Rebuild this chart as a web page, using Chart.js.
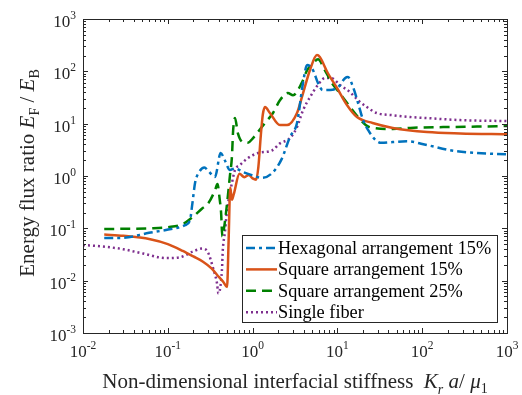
<!DOCTYPE html>
<html>
<head>
<meta charset="utf-8">
<script src="https://cdn.jsdelivr.net/npm/chart.js@4.4.0/dist/chart.umd.min.js"></script>
<style>
  body { margin: 0; background: #fff; }
  canvas { display: block; }
</style>
</head>
<body>
<canvas id="grafico" width="522" height="395"></canvas>
<script>
// tick decades and labels
var xTicks = [1e-2, 1e-1, 1e0, 1e1, 1e2, 1e3];
var xTickExp = ['-2', '-1', '0', '1', '2', '3'];
var yTicks = [1e-3, 1e-2, 1e-1, 1e0, 1e1, 1e2, 1e3];
var yTickExp = ['-3', '-2', '-1', '0', '1', '2', '3'];

var labels = ['Hexagonal arrangement 15%', 'Square arrangement 15%', 'Square arrangement 25%', 'Single fiber'];

// [K a / mu, E_F / E_B]
var hex15 = [[0.0178,0.065],[0.03,0.066],[0.06,0.082],[0.095,0.093],[0.16,0.115],[0.183,0.145],[0.195,0.3],
  [0.21,0.75],[0.235,1.2],[0.27,1.45],[0.3,1.25],[0.36,0.96],[0.42,2.75],[0.47,2.0],[0.54,1.3],[0.62,1.4],
  [0.77,1.19],[0.98,1.04],[1.29,0.92],[1.7,1.14],[2.2,2.1],[2.76,5.6],[3.34,10.3],[3.93,60],[4.4,132],
  [5.15,106],[5.9,60],[6.7,44],[8.2,44],[10.2,50],[12.3,74],[13.3,78],[15.3,50],[17.5,25],[20,12],
  [23,7.6],[28,4.9],[33,4.3],[45,4.45],[66,4.6],[114,3.9],[213,3.1],[443,2.75],[1000,2.6]];

var sq15 = [[0.0178,0.076],[0.03,0.072],[0.062,0.062],[0.1,0.05],[0.15,0.037],[0.2,0.029],[0.26,0.023],
  [0.33,0.017],[0.38,0.013],[0.45,0.0095],[0.5,0.0076],[0.52,0.05],[0.545,0.6],[0.57,0.35],[0.6,0.45],
  [0.7,1.1],[0.8,0.95],[0.9,1.05],[1.0,0.9],[1.1,0.85],[1.17,1.5],[1.25,6],[1.32,15],[1.4,20.8],[1.6,16],
  [2.1,9.4],[2.55,9.4],[3.34,16],[3.93,38],[4.75,106],[5.74,205],[6.2,188],[7.7,93],[9.9,48],[12.9,23],
  [17,13.4],[26,10.3],[45,8.3],[114,6.9],[280,6.5],[1000,6.3]];

var sq25 = [[0.0178,0.097],[0.03,0.098],[0.062,0.1],[0.1,0.105],[0.15,0.12],[0.19,0.157],[0.254,0.24],
  [0.3,0.3],[0.36,0.53],[0.385,0.7],[0.41,0.35],[0.425,0.2],[0.44,0.07],[0.46,0.1],[0.5,0.3],[0.54,1.0],
  [0.57,2.3],[0.59,7.6],[0.62,12.8],[0.67,6.6],[0.77,4.4],[0.88,4.3],[1.0,5.2],[1.13,6.6],[1.4,10.3],
  [1.74,16],[2.1,28],[2.6,38.5],[3.0,35],[3.8,60],[4.4,106],[5.0,132],[5.9,170],[7.1,106],[8.6,60],
  [10.7,38],[14.1,21],[17.5,13.4],[24,8.6],[45,7.9],[72,8.3],[176,8.6],[443,8.8],[1000,9.0]];

var single = [[0.01,0.048],[0.0172,0.045],[0.0296,0.04],[0.051,0.033],[0.095,0.027],[0.139,0.028],
  [0.198,0.036],[0.254,0.041],[0.297,0.035],[0.34,0.018],[0.38,0.009],[0.395,0.0057],[0.435,0.016],
  [0.445,0.038],[0.47,0.081],[0.5,0.22],[0.57,0.73],[0.62,1.3],[0.71,1.62],[0.88,2.2],[1.16,2.75],
  [1.7,3.1],[2.1,4.2],[2.76,5.3],[3.34,8.6],[3.93,18],[4.75,32],[5.9,55],[7.2,75],[8.6,74],[10.7,55],
  [14.1,40],[17.5,28],[22,21],[29,16],[45,14.5],[72,13.4],[114,12.8],[280,11.7],[1000,11.2]];

var serif = '"Liberation Serif", "Times New Roman", serif';

function toXY(arr) {
    return arr.map(function(p) { return { x: p[0], y: p[1] }; });
}

function linha(label, data, cor, dash, cap) {
    return {
        label: label,
        data: toXY(data),
        borderColor: cor,
        borderWidth: 2.5,
        borderDash: dash,
        borderCapStyle: cap || 'butt',
        pointRadius: 0,
        fill: false,
        cubicInterpolationMode: 'monotone'
    };
}

// "10" with a raised exponent
function potencia(ctx, exp, x, y, align) {
    var baseFont = '17px ' + serif, expFont = '11.5px ' + serif;
    ctx.font = baseFont;
    var wb = ctx.measureText('10').width;
    ctx.font = expFont;
    var we = ctx.measureText(exp).width;
    var x0 = align === 'right' ? x - wb - we : x - (wb + we) / 2;
    ctx.textAlign = 'left';
    ctx.textBaseline = 'alphabetic';
    ctx.font = baseFont;
    ctx.fillText('10', x0, y);
    ctx.font = expFont;
    ctx.fillText(exp, x0 + wb, y - 8);
}

// write a list of [text, font, dy] pieces in a row
function pedacos(ctx, parts, x, y) {
    var cx = x;
    parts.forEach(function(p) {
        ctx.font = p[1];
        ctx.fillText(p[0], cx, y + (p[2] || 0));
        cx += ctx.measureText(p[0]).width;
    });
}
function larguraPedacos(ctx, parts) {
    var w = 0;
    parts.forEach(function(p) { ctx.font = p[1]; w += ctx.measureText(p[0]).width; });
    return w;
}

var eixosPlugin = {
    id: 'eixos',
    afterDatasetsDraw: function(chart) {
        var ctx = chart.ctx, a = chart.chartArea;
        var sx = chart.scales.x, sy = chart.scales.y;
        ctx.save();
        ctx.strokeStyle = '#262626';
        ctx.lineWidth = 1;
        ctx.setLineDash([]);
        ctx.beginPath();
        // minor and major ticks, inward on all four sides
        xTicks.forEach(function(d, i) {
            for (var m = 1; m <= 9; m++) {
                if (i === xTicks.length - 1 && m > 1) break;
                var px = Math.round(sx.getPixelForValue(d * m)) + 0.5;
                var len = m === 1 ? 5 : 3;
                ctx.moveTo(px, a.bottom); ctx.lineTo(px, a.bottom - len);
                ctx.moveTo(px, a.top); ctx.lineTo(px, a.top + len);
            }
        });
        yTicks.forEach(function(d, i) {
            for (var m = 1; m <= 9; m++) {
                if (i === yTicks.length - 1 && m > 1) break;
                var py = Math.round(sy.getPixelForValue(d * m)) + 0.5;
                var len = m === 1 ? 5 : 3;
                ctx.moveTo(a.left, py); ctx.lineTo(a.left + len, py);
                ctx.moveTo(a.right, py); ctx.lineTo(a.right - len, py);
            }
        });
        ctx.stroke();
        ctx.strokeRect(Math.round(a.left) + 0.5, Math.round(a.top) + 0.5,
            Math.round(a.right - a.left), Math.round(a.bottom - a.top));

        ctx.fillStyle = '#262626';
        xTicks.forEach(function(d, i) {
            potencia(ctx, xTickExp[i], sx.getPixelForValue(d), a.bottom + 24, 'center');
        });
        yTicks.forEach(function(d, i) {
            potencia(ctx, yTickExp[i], a.left - 7, sy.getPixelForValue(d) + 8, 'right');
        });

        // x title
        var f = '21px ' + serif, fi = 'italic 21px ' + serif, fs = '14px ' + serif, fsi = 'italic 14px ' + serif;
        var tx = [['Non-dimensional interfacial stiffness  ', f], ['K', fi], ['r', fsi, 6], [' a', fi], ['/ ', f], ['\u03bc', fi], ['1', fs, 5]];
        ctx.textAlign = 'left';
        ctx.textBaseline = 'alphabetic';
        var w = larguraPedacos(ctx, tx);
        pedacos(ctx, tx, (a.left + a.right) / 2 - w / 2, 388);

        // y title
        var ty = [['Energy flux ratio ', f], ['E', fi], ['F', fs, 5], [' / ', f], ['E', fi], ['B', fs, 5]];
        w = larguraPedacos(ctx, ty);
        ctx.translate(34, (a.top + a.bottom) / 2 - 3);
        ctx.rotate(-Math.PI / 2);
        pedacos(ctx, ty, -w / 2, 0);
        ctx.restore();
    },
    afterDraw: function(chart) {
        var ctx = chart.ctx;
        var bx = 242.5, by = 235.5, bw = 255, bh = 87;
        ctx.save();
        ctx.fillStyle = '#fff';
        ctx.fillRect(bx, by, bw, bh);
        ctx.strokeStyle = '#262626';
        ctx.lineWidth = 1;
        ctx.setLineDash([]);
        ctx.strokeRect(bx, by, bw, bh);
        ctx.font = '18.3px ' + serif;
        ctx.textBaseline = 'middle';
        ctx.textAlign = 'left';
        chart.data.datasets.forEach(function(ds, i) {
            var yy = 248 + i * 21.4;
            ctx.strokeStyle = ds.borderColor;
            ctx.lineWidth = ds.borderWidth;
            ctx.lineCap = ds.borderCapStyle;
            ctx.setLineDash(ds.borderDash);
            ctx.beginPath();
            ctx.moveTo(246, yy);
            ctx.lineTo(277, yy);
            ctx.stroke();
            ctx.fillStyle = '#000';
            ctx.fillText(ds.label, 278, yy + 1);
        });
        ctx.restore();
    }
};

new Chart(document.getElementById('grafico'), {
    type: 'line',
    data: {
        datasets: [
            linha(labels[0], hex15, '#0072BD', [9, 4, 3, 4]),
            linha(labels[1], sq15, '#D95319', []),
            linha(labels[2], sq25, '#008000', [10, 6]),
            linha(labels[3], single, '#7E2F8E', [2, 3])
        ]
    },
    options: {
        responsive: false,
        animation: false,
        layout: { padding: { left: 83, top: 19, right: 15, bottom: 62 } },
        plugins: { legend: { display: false }, tooltip: { enabled: false } },
        scales: {
            x: { type: 'logarithmic', min: 0.01, max: 1000, display: false },
            y: { type: 'logarithmic', min: 0.001, max: 1000, display: false }
        }
    },
    plugins: [eixosPlugin]
});
</script>
</body>
</html>
